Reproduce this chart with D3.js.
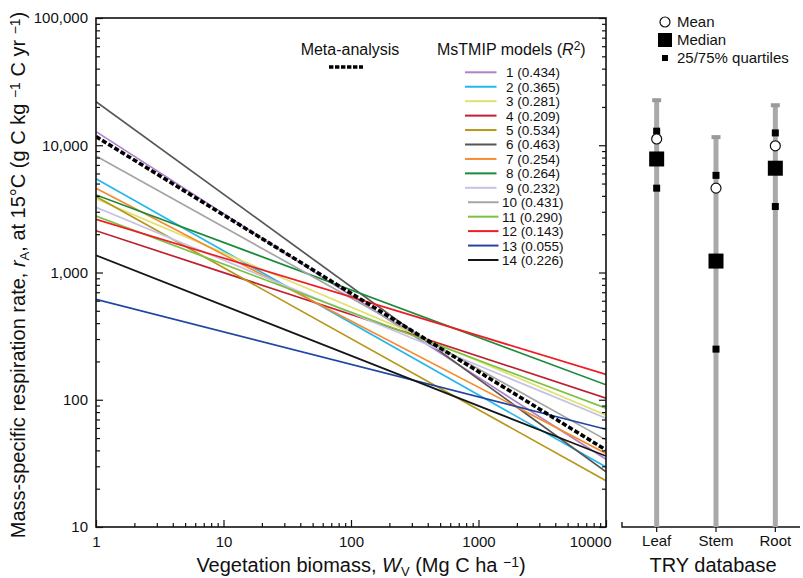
<!DOCTYPE html>
<html>
<head>
<meta charset="utf-8">
<script src="https://cdn.jsdelivr.net/npm/d3@7"></script>
<style>
  body { margin: 0; background: #fff; }
  text { font-family: "Liberation Sans", Arial, sans-serif; fill: #111; }
</style>
</head>
<body>
<div id="canvas-wrapper"></div>
<script>
// ---- data ----
var biomassRange = [1, 10000];
var modelLabels = ["1 (0.434)", "2 (0.365)", "3 (0.281)", "4 (0.209)", "5 (0.534)", "6 (0.463)", "7 (0.254)",
  "8 (0.264)", "9 (0.232)", "10 (0.431)", "11 (0.290)", "12 (0.143)", "13 (0.055)", "14 (0.226)"];
var modelColors = ["#ad82c8", "#25b7ea", "#dfe26e", "#be2230", "#b8961a", "#555555", "#f58c2e",
  "#1b8a3d", "#c6c2e6", "#a5a5a5", "#7cc143", "#ee1c25", "#2146a0", "#161616"];
// respiration rate at W = 1 and at W = 10000
var modelAtStart = [12800, 5460, 3800, 2130, 3950, 22000, 4590, 4070, 3250, 8230, 2780, 2620, 615, 1365];
var modelAtEnd = [34, 29.6, 75.5, 103, 23.1, 27.2, 37.8, 131, 71.5, 48.4, 85.7, 158, 58.6, 36.1];
var metaAnalysis = [11700, 40.3];

var yTickValues = [10, 100, 1000, 10000, 100000];
var xTickValues = [1, 10, 100, 1000, 10000];

var tryCategories = ["Leaf", "Stem", "Root"];
var tryTop = [23000, 11800, 21000];
var tryQ75 = [12900, 5800, 12500];
var tryMean = [11200, 4600, 9900];
var tryMedian = [7800, 1230, 6600];
var tryQ25 = [4600, 250, 3300];

// ---- layout ----
var W = 803, H = 578;
var plot = {left: 96, right: 606, top: 18, bottom: 527};

var svg = d3.select("#canvas-wrapper").append("svg")
    .attr("width", W).attr("height", H);

var x = d3.scaleLog().domain(biomassRange).range([plot.left, plot.right]);
var y = d3.scaleLog().domain([10, 100000]).range([plot.bottom, plot.top]);

function minorTicks(lo, hi) {
  var out = [];
  for (var d = lo; d < hi; d *= 10)
    for (var k = 2; k <= 9; k++) if (d * k <= hi) out.push(d * k);
  return out;
}

svg.append("clipPath").attr("id", "plot-clip")
  .append("rect")
    .attr("x", plot.left).attr("y", plot.top)
    .attr("width", plot.right - plot.left).attr("height", plot.bottom - plot.top);

// model lines
var lineGen = d3.line()
    .x(function(d) { return x(d[0]); })
    .y(function(d) { return y(d[1]); });

var lines = svg.append("g").attr("clip-path", "url(#plot-clip)");

modelLabels.forEach(function(lab, i) {
  lines.append("path")
    .datum([[biomassRange[0], modelAtStart[i]], [biomassRange[1], modelAtEnd[i]]])
    .attr("d", lineGen)
    .attr("fill", "none")
    .attr("stroke", modelColors[i])
    .attr("stroke-width", 1.7);
});

lines.append("path")
  .datum([[biomassRange[0], metaAnalysis[0]], [biomassRange[1], metaAnalysis[1]]])
  .attr("d", lineGen)
  .attr("fill", "none")
  .attr("stroke", "#000")
  .attr("stroke-width", 3.6)
  .attr("stroke-dasharray", "5,2.2");

// frame
svg.append("rect")
  .attr("x", plot.left).attr("y", plot.top)
  .attr("width", plot.right - plot.left).attr("height", plot.bottom - plot.top)
  .attr("fill", "none").attr("stroke", "#111").attr("stroke-width", 1.6);

// y axis (ticks pointing inwards)
var yAxis = svg.append("g")
    .attr("transform", "translate(" + plot.left + ",0)")
    .call(d3.axisLeft(y).tickValues(yTickValues).tickFormat(d3.format(",")).tickSize(-7).tickPadding(8));
svg.append("g")
    .attr("transform", "translate(" + plot.left + ",0)")
    .call(d3.axisLeft(y).tickValues(minorTicks(10, 100000)).tickFormat("").tickSize(-4));
svg.append("g")
    .attr("transform", "translate(" + plot.right + ",0)")
    .call(d3.axisRight(y).tickValues(yTickValues).tickFormat("").tickSize(-7));
svg.append("g")
    .attr("transform", "translate(" + plot.right + ",0)")
    .call(d3.axisRight(y).tickValues(minorTicks(10, 100000)).tickFormat("").tickSize(-4));

// x axis
var xAxis = svg.append("g")
    .attr("transform", "translate(0," + plot.bottom + ")")
    .call(d3.axisBottom(x).tickValues(xTickValues).tickFormat(d3.format("d")).tickSize(-7).tickPadding(9));
svg.append("g")
    .attr("transform", "translate(0," + plot.bottom + ")")
    .call(d3.axisBottom(x).tickValues(minorTicks(1, 10000)).tickFormat("").tickSize(-4));

svg.selectAll(".domain").remove();
svg.selectAll(".tick line").attr("stroke", "#111").attr("stroke-width", 1.2);
svg.selectAll(".tick text").style("font-size", "15px").attr("fill", "#111");
// last x label kept inside the panel
xAxis.selectAll(".tick text").filter(function(d) { return d === 10000; })
  .attr("text-anchor", "end").attr("dx", 5);

// axis titles
var yTitle = svg.append("text")
    .attr("transform", "translate(25,275) rotate(-90)")
    .attr("text-anchor", "middle")
    .style("font-size", "20px");
yTitle.append("tspan").text("Mass-specific respiration rate, ");
yTitle.append("tspan").style("font-style", "italic").text("r");
yTitle.append("tspan").attr("dy", 4).style("font-size", "13px").text("A");
yTitle.append("tspan").attr("dy", -4).text(", at 15°C (g C kg ");
yTitle.append("tspan").attr("dy", -5).style("font-size", "14px").text("−1");
yTitle.append("tspan").attr("dy", 5).text(" C yr ");
yTitle.append("tspan").attr("dy", -5).style("font-size", "14px").text("−1");
yTitle.append("tspan").attr("dy", 5).text(")");

var xTitle = svg.append("text")
    .attr("x", 361).attr("y", 572)
    .attr("text-anchor", "middle")
    .style("font-size", "20px");
xTitle.append("tspan").text("Vegetation biomass, ");
xTitle.append("tspan").style("font-style", "italic").text("W");
xTitle.append("tspan").attr("dy", 4).style("font-size", "13px").text("V");
xTitle.append("tspan").attr("dy", -4).text(" (Mg C ha ");
xTitle.append("tspan").attr("dy", -5).style("font-size", "14px").text("−1");
xTitle.append("tspan").attr("dy", 5).text(")");

// legend
svg.append("text").attr("x", 350).attr("y", 55).attr("text-anchor", "middle")
  .style("font-size", "16px").text("Meta-analysis");
svg.append("line")
  .attr("x1", 329).attr("x2", 363).attr("y1", 67).attr("y2", 67)
  .attr("stroke", "#000").attr("stroke-width", 3.6).attr("stroke-dasharray", "4.4,1.6");

var ms = svg.append("text").attr("x", 437).attr("y", 55).style("font-size", "16px");
ms.append("tspan").text("MsTMIP models (");
ms.append("tspan").style("font-style", "italic").text("R");
ms.append("tspan").attr("dy", -5).style("font-size", "12px").text("2");
ms.append("tspan").attr("dy", 5).text(")");

var legendRow = d3.scaleLinear().domain([0, 13]).range([72.3, 260]);
modelLabels.forEach(function(lab, i) {
  var wide = i >= 9;
  var ly = legendRow(i);
  svg.append("line")
    .attr("x1", wide ? 468 : 465).attr("x2", wide ? 498.5 : 496.5)
    .attr("y1", ly).attr("y2", ly)
    .attr("stroke", modelColors[i]).attr("stroke-width", 2);
  svg.append("text")
    .attr("x", wide ? 502 : 506).attr("y", ly + 5)
    .style("font-size", "13.5px").text(lab);
});

// ---- TRY database panel ----
var px = d3.scalePoint().domain(tryCategories).range([627, 805]).padding(0.5);

svg.append("path")
  .attr("d", "M622," + (plot.bottom - 5) + "V" + plot.bottom + "H800")
  .attr("fill", "none").attr("stroke", "#111").attr("stroke-width", 1.4);

var cat = svg.append("g").selectAll("g").data(tryCategories).enter().append("g")
  .attr("transform", function(d) { return "translate(" + px(d) + ",0)"; });

cat.append("line")
  .attr("y1", function(d, i) { return y(tryTop[i]); })
  .attr("y2", plot.bottom)
  .attr("stroke", "#a9a9a9").attr("stroke-width", 5);
cat.append("rect")
  .attr("x", -4.5).attr("width", 9).attr("height", 4)
  .attr("y", function(d, i) { return y(tryTop[i]) - 1; })
  .attr("fill", "#9a9a9a");
cat.append("line")
  .attr("y1", plot.bottom).attr("y2", plot.bottom + 5)
  .attr("stroke", "#111").attr("stroke-width", 1.2);
cat.append("rect")
  .attr("x", -3.5).attr("width", 7).attr("height", 7)
  .attr("y", function(d, i) { return y(tryQ75[i]) - 3.5; });
cat.append("rect")
  .attr("x", -3.5).attr("width", 7).attr("height", 7)
  .attr("y", function(d, i) { return y(tryQ25[i]) - 3.5; });
cat.append("rect")
  .attr("x", -7.5).attr("width", 15).attr("height", 15)
  .attr("y", function(d, i) { return y(tryMedian[i]) - 7.5; });
cat.append("circle")
  .attr("r", 5)
  .attr("cy", function(d, i) { return y(tryMean[i]); })
  .attr("fill", "#fff").attr("stroke", "#111").attr("stroke-width", 1.2);
cat.append("text")
  .attr("y", 546).attr("text-anchor", "middle")
  .style("font-size", "15px").text(function(d) { return d; });

svg.append("text").attr("x", 713).attr("y", 572).attr("text-anchor", "middle")
  .style("font-size", "20px").text("TRY database");

// panel legend
svg.append("circle").attr("cx", 665).attr("cy", 22).attr("r", 5)
  .attr("fill", "#fff").attr("stroke", "#111").attr("stroke-width", 1.2);
svg.append("text").attr("x", 677).attr("y", 27).style("font-size", "15px").text("Mean");
svg.append("rect").attr("x", 658).attr("y", 33).attr("width", 14).attr("height", 14);
svg.append("text").attr("x", 677).attr("y", 45).style("font-size", "15px").text("Median");
svg.append("rect").attr("x", 662).attr("y", 55).attr("width", 6).attr("height", 6);
svg.append("text").attr("x", 677).attr("y", 63).style("font-size", "15px").text("25/75% quartiles");
</script>
</body>
</html>
